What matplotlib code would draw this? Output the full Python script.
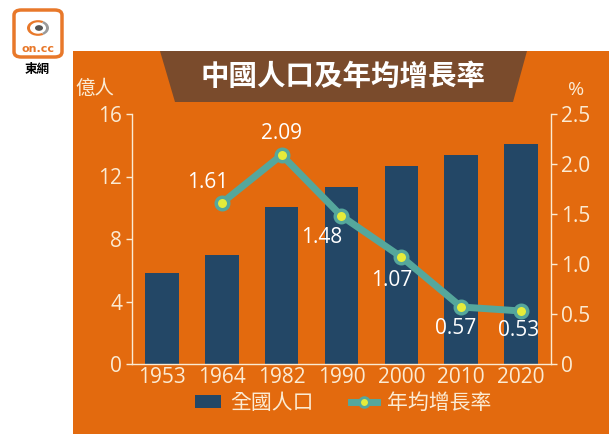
import matplotlib
matplotlib.use("Agg")
import matplotlib.pyplot as plt
from matplotlib.patches import Rectangle, Polygon, FancyBboxPatch, Circle, Wedge
from matplotlib.lines import Line2D
from matplotlib.patches import Patch

plt.rcParams['font.family'] = ['Open Sans', 'Noto Sans CJK TC', 'DejaVu Sans']

years = ["1953", "1964", "1982", "1990", "2000", "2010", "2020"]
population = [5.8, 6.95, 10.08, 11.3, 12.66, 13.4, 14.1]
growth_years = ["1964", "1982", "1990", "2000", "2010", "2020"]
growth = [1.61, 2.09, 1.48, 1.07, 0.57, 0.53]
growth_labels = ["1.61", "2.09", "1.48", "1.07", "0.57", "0.53"]
label_offsets_px = [(-14, 21), (0, 22), (-20, -21), (-10, -24), (-6, -22), (-3, -19)]
left_ticks = [0, 4, 8, 12, 16]
right_ticks = [0, 0.5, 1.0, 1.5, 2.0, 2.5]
right_tick_labels = ["0", "0.5", "1.0", "1.5", "2.0", "2.5"]

W, H = 609, 434
ORANGE = "#E36A0E"
BROWN = "#7A4B2C"
NAVY = "#234766"
TEAL = "#55A79C"
YELLOW = "#E6EC3A"
CREAM = "#FBEBD3"

fig = plt.figure(figsize=(W / 100, H / 100), dpi=100)
fig.patch.set_facecolor("white")

def fx(px):
    return px / W

def fy(py):
    return 1 - py / H

# orange panel
fig.patches.append(Rectangle((fx(73), 0), 1 - fx(73), fy(51), transform=fig.transFigure,
                             facecolor=ORANGE, edgecolor="none", zorder=-2))
# title banner
fig.patches.append(Polygon([(fx(160), fy(51)), (fx(527), fy(51)), (fx(513), fy(102)), (fx(175), fy(102))],
                           closed=True, transform=fig.transFigure, facecolor=BROWN, edgecolor="none", zorder=-1))
fig.text(fx(343), fy(77), "中國人口及年均增長率", color="white", fontsize=20.5, fontweight="bold",
         ha="center", va="center", family=['Noto Sans CJK TC'])

# logo
fig.patches.append(FancyBboxPatch((fx(14), fy(57)), fx(48), fy(10) - fy(57),
                                  boxstyle="round,pad=0,rounding_size=0.012", transform=fig.transFigure,
                                  facecolor="white", edgecolor="#E8782A", linewidth=2.5, zorder=2))
fig.patches.append(Wedge((fx(38), fy(28)), fx(11), 60, 300, width=fx(3), transform=fig.transFigure,
                         facecolor="#E8782A", edgecolor="none", zorder=3))
fig.patches.append(Wedge((fx(38), fy(28)), fx(11), -60, 60, width=fx(3), transform=fig.transFigure,
                         facecolor="#9A9A9A", edgecolor="none", zorder=3))
fig.patches.append(Circle((fx(39), fy(28)), fx(4), transform=fig.transFigure,
                          facecolor="#555555", edgecolor="none", zorder=3))
fig.text(fx(38), fy(49), "on.cc", color="#E8782A", fontsize=8, fontweight="bold",
         ha="center", va="center", family=['DejaVu Sans'])
fig.text(fx(37), fy(69), "東網", color="black", fontsize=9, fontweight="bold",
         ha="center", va="center", family=['Noto Sans CJK TC'])

# axes
ax = fig.add_axes([fx(132), fy(364), fx(551) - fx(132), fy(114) - fy(364)])
ax.set_facecolor("none")
x = list(range(len(years)))
ax.bar(x, population, width=0.56, color=NAVY, zorder=2)
ax.set_xlim(-0.5, len(years) - 0.5)
ax.set_ylim(0, 16)
ax.set_yticks(left_ticks)
ax.set_yticklabels([str(t) for t in left_ticks])
ax.set_xticks(x)
ax.set_xticklabels(years)
for s in ["top", "right"]:
    ax.spines[s].set_visible(False)
for s in ["left", "bottom"]:
    ax.spines[s].set_color(CREAM)
    ax.spines[s].set_linewidth(1.0)
ax.tick_params(axis="y", colors=CREAM, labelcolor=CREAM, labelsize=15, length=4, width=1, pad=3)
ax.tick_params(axis="x", colors=CREAM, labelcolor=CREAM, labelsize=15, length=0, pad=2)

ax2 = ax.twinx()
ax2.set_ylim(0, 2.5)
ax2.set_yticks(right_ticks)
ax2.set_yticklabels(right_tick_labels)
for s in ["top", "left", "bottom"]:
    ax2.spines[s].set_visible(False)
ax2.spines["right"].set_color(CREAM)
ax2.spines["right"].set_linewidth(1.0)
ax2.tick_params(axis="y", colors=CREAM, labelcolor=CREAM, labelsize=15, length=4, width=1, pad=3)

gx = [years.index(y) for y in growth_years]
ax2.plot(gx, growth, color=TEAL, linewidth=5, zorder=3, solid_capstyle="round")
ax2.plot(gx, growth, linestyle="none", marker="o", markersize=9, markerfacecolor=YELLOW,
         markeredgecolor=TEAL, markeredgewidth=2.5, zorder=4)
for xi, v, lab, (dx, dy) in zip(gx, growth, growth_labels, label_offsets_px):
    ax2.annotate(lab, (xi, v), xytext=(dx * 0.72, dy * 0.72), textcoords="offset points",
                 ha="center", va="center", color="white", fontsize=15, zorder=5)

fig.text(fx(95), fy(88), "億人", color=CREAM, fontsize=14, ha="center", va="center",
         family=['Noto Sans CJK TC'])
fig.text(fx(576), fy(90), "%", color=CREAM, fontsize=14, ha="center", va="center")

handles = [Patch(facecolor=NAVY, edgecolor="none"),
           Line2D([0], [0], color=TEAL, linewidth=5, marker="o", markersize=7,
                  markerfacecolor=YELLOW, markeredgecolor=TEAL, markeredgewidth=2)]
leg = fig.legend(handles, ["全國人口", "年均增長率"], loc="center", bbox_to_anchor=(fx(343), fy(403)),
                 ncol=2, frameon=False, handlelength=1.25, handleheight=0.6,
                 columnspacing=1.8, handletextpad=0.45,
                 prop={'family': ['Noto Sans CJK TC'], 'size': 15})
for t in leg.get_texts():
    t.set_color(CREAM)

fig.savefig("out.png", dpi=100, facecolor=fig.get_facecolor())
